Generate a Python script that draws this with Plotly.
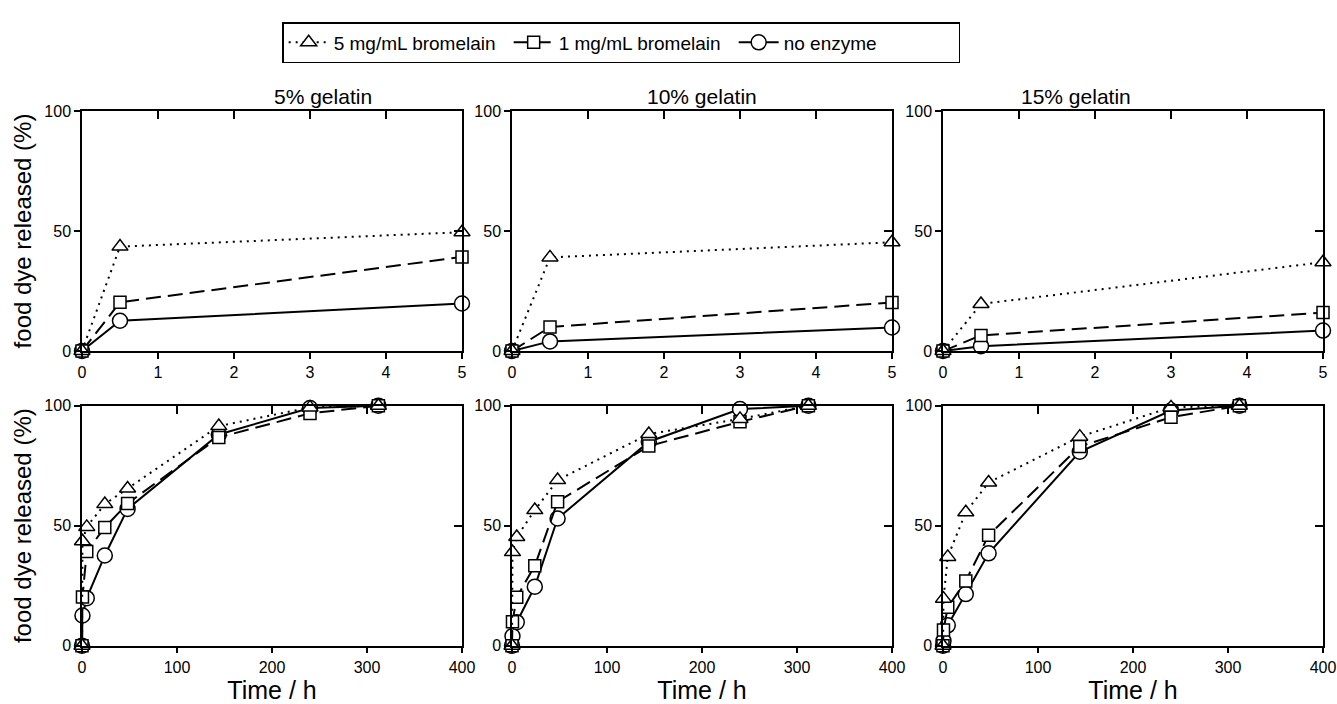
import plotly.graph_objects as go
from plotly.subplots import make_subplots

# sampling times (h); the top row shows the first three points only
times = [0, 0.5, 5, 24, 48, 144, 240, 312]
n_short = 3

gelatins = ["5% gelatin", "10% gelatin", "15% gelatin"]

# food dye released (%) per gelatin concentration
brom5_5 = [0, 43.5, 49.5, 59, 65.5, 91.5, 99.3, 100]
brom1_5 = [0, 20.3, 39.2, 49.3, 59.3, 86.8, 96.8, 100]
none_5 = [0, 12.6, 19.8, 37.6, 57, 88, 99, 100]

brom5_10 = [0, 39, 45.3, 56.5, 69, 88.2, 94.5, 100]
brom1_10 = [0, 10, 20.2, 33.3, 60, 83.2, 93.3, 100]
none_10 = [0, 4, 9.8, 24.6, 53, 85, 98.6, 100]

brom5_15 = [0, 19.6, 37, 55.6, 68, 87.1, 99.3, 100]
brom1_15 = [0, 6.5, 16, 27, 46, 83, 95.2, 100]
none_15 = [0, 2, 8.5, 21.5, 38.5, 80.8, 98, 100]

data = [
    (brom5_5, brom1_5, none_5),
    (brom5_10, brom1_10, none_10),
    (brom5_15, brom1_15, none_15),
]

FONT = "Liberation Sans, Arial, sans-serif"
W, H = 1337, 704

# series style: name, marker symbol, size, dash, legend rank
series = [
    ("5 mg/mL bromelain", "triangle-up", 14, "2px,5px", 1),
    ("1 mg/mL bromelain", "square", 12, "15px,7px", 2),
    ("no enzyme", "circle", 15, "solid", 3),
]

fig = make_subplots(rows=2, cols=3)

for col, vals in enumerate(data, start=1):
    for row in (1, 2):
        n = n_short if row == 1 else len(times)
        # draw circles first, triangles last
        for (name, sym, size, dash, rank), y in reversed(list(zip(series, vals))):
            fig.add_trace(
                go.Scatter(
                    x=times[:n], y=y[:n],
                    mode="lines+markers",
                    name=name,
                    legendrank=rank,
                    showlegend=(row == 1 and col == 1),
                    line=dict(color="black", width=2, dash=dash),
                    marker=dict(symbol=sym, size=size, color="white",
                                line=dict(color="black", width=1.5)),
                    cliponaxis=False,
                ),
                row=row, col=col,
            )

# pixel layout of the panels
px_x = [(82, 462), (512, 892), (943, 1323)]
px_y = [(111, 351), (405.7, 645.7)]

tick_font = dict(family=FONT, size=16, color="black")
twin_axes = {}
for row in (1, 2):
    for col in (1, 2, 3):
        idx = (row - 1) * 3 + col
        xd = [px_x[col - 1][0] / W, px_x[col - 1][1] / W]
        yd = [1 - px_y[row - 1][1] / H, 1 - px_y[row - 1][0] / H]
        xr = [0, 5] if row == 1 else [0, 400]
        xt = [0, 1, 2, 3, 4, 5] if row == 1 else [0, 100, 200, 300, 400]
        fig.update_xaxes(
            domain=xd, range=xr, tickvals=xt, ticks="outside", ticklen=6,
            tickwidth=1.5, tickcolor="black", showline=True, linecolor="black",
            linewidth=1.5, mirror=True, showgrid=False, zeroline=False,
            tickfont=tick_font, automargin=False,
            title=dict(text="Time / h" if row == 2 else "",
                       font=dict(family=FONT, size=25, color="black"), standoff=0),
            row=row, col=col,
        )
        fig.update_yaxes(
            domain=yd, range=[0, 100], tickvals=[0, 50, 100], ticks="outside",
            ticklen=6, tickwidth=1.5, tickcolor="black", showline=True,
            linecolor="black", linewidth=1.5, mirror=True, showgrid=False,
            zeroline=False, tickfont=tick_font, automargin=False,
            title=dict(text="food dye released (%)" if col == 1 else "",
                       font=dict(family=FONT, size=24, color="black"), standoff=6),
            row=row, col=col,
        )
        # a twin subplot on the same spot carries inward ticks on top and right
        ox = idx + 6
        fig.add_trace(go.Scatter(x=[xr[0]], y=[0], xaxis=f"x{ox}", yaxis=f"y{ox}",
                                 mode="markers", marker=dict(opacity=0),
                                 showlegend=False, hoverinfo="skip"))
        twin_axes[f"xaxis{ox}"] = dict(
            domain=xd, side="top", anchor=f"y{ox}", range=xr, tickvals=xt,
            ticks="inside", ticklen=8, tickwidth=2, tickcolor="black",
            showticklabels=False, showgrid=False, zeroline=False, showline=False,
            automargin=False, fixedrange=True,
        )
        twin_axes[f"yaxis{ox}"] = dict(
            domain=yd, side="right", anchor=f"x{ox}", range=[0, 100],
            tickvals=[0, 50, 100], ticks="inside", ticklen=8, tickwidth=2,
            tickcolor="black", showticklabels=False, showgrid=False,
            zeroline=False, showline=False, automargin=False, fixedrange=True,
        )

fig.update_layout(**twin_axes)

for col, title in enumerate(gelatins):
    fig.add_annotation(
        x=(px_x[col][0] + px_x[col][1]) / 2 / W, y=1 - 83 / H,
        xref="paper", yref="paper", text=title, showarrow=False,
        font=dict(family=FONT, size=21, color="black"),
    )

fig.update_layout(
    width=W, height=H,
    margin=dict(l=0, r=0, t=0, b=0),
    paper_bgcolor="white", plot_bgcolor="rgba(0,0,0,0)",
    font=dict(family=FONT, color="black"),
    showlegend=True,
    legend=dict(
        orientation="h", x=0.4646, y=1 - 22 / H, xanchor="center", yanchor="top",
        bordercolor="black", borderwidth=1.5, bgcolor="white",
        font=dict(family=FONT, size=19, color="black"),
        itemwidth=40, entrywidth=170, entrywidthmode="pixels",
    ),
)

# page body has a default margin; drop it so the figure sits at the corner
fig.write_html(
    "out.html",
    config={"displayModeBar": False},
    post_script="document.body.style.margin='0';document.body.style.overflow='hidden';",
)
